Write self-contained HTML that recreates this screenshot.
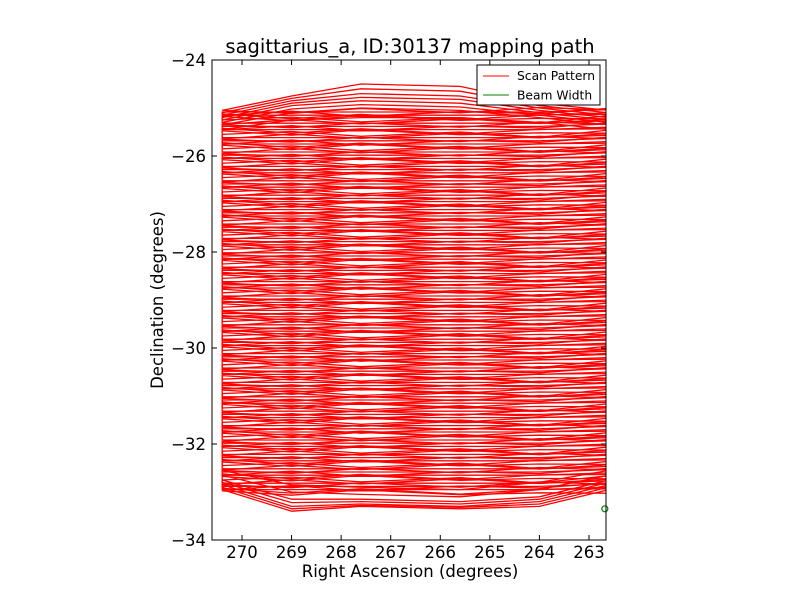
<!DOCTYPE html>
<html><head><meta charset="utf-8"><style>
body{margin:0;background:#fff;}
svg text{font-family:"DejaVu Sans","Liberation Sans",sans-serif;}
</style></head><body>
<svg id="chart" width="800" height="600" xmlns="http://www.w3.org/2000/svg">
<rect width="800" height="600" fill="#fff"/>
<text x="410" y="53" font-size="19.5" text-anchor="middle">sagittarius_a, ID:30137 mapping path</text>
<defs><clipPath id="clip"><rect x="212" y="60" width="394" height="480"/></clipPath></defs>
<g id="series" clip-path="url(#clip)"></g>
<circle id="beam" r="3" fill="none" stroke="green" stroke-width="1.2"/>
<g id="axes"></g>
<rect x="212" y="60" width="394" height="480" fill="none" stroke="#000" stroke-width="1"/>
<text x="410" y="577" font-size="16.5" text-anchor="middle">Right Ascension (degrees)</text>
<text x="163" y="300" font-size="16.5" text-anchor="middle" transform="rotate(-90 163 300)">Declination (degrees)</text>
<g>
<rect x="477" y="65" width="123" height="40" fill="#fff" stroke="#000"/>
<line x1="483" y1="76" x2="509" y2="76" stroke="red"/>
<text x="517" y="80" font-size="12.3">Scan Pattern</text>
<line x1="483" y1="95" x2="509" y2="95" stroke="green"/>
<text x="517" y="99.5" font-size="12.3">Beam Width</text>
</g>
</svg>
<script>
const xTicks=[270,269,268,267,266,265,264,263];
const yTicks=[-24,-26,-28,-30,-32,-34];
const knotsRA=[270.4,269.0,267.6,265.6,264.0,262.6];
const rowDecs=[-25.05,-25.15,-25.25,-25.35,-25.45,-25.55,-25.65,-25.75,-25.85,-25.95,-26.05,-26.15,-26.25,-26.35,-26.45,-26.55,-26.65,-26.75,-26.85,-26.95,-27.05,-27.15,-27.25,-27.35,-27.45,-27.55,-27.65,-27.75,-27.85,-27.95,-28.05,-28.15,-28.25,-28.35,-28.45,-28.55,-28.65,-28.75,-28.85,-28.95,-29.05,-29.15,-29.25,-29.35,-29.45,-29.55,-29.65,-29.75,-29.85,-29.95,-30.05,-30.15,-30.25,-30.35,-30.45,-30.55,-30.65,-30.75,-30.85,-30.95,-31.05,-31.15,-31.25,-31.35,-31.45,-31.55,-31.65,-31.75,-31.85,-31.95,-32.05,-32.15,-32.25,-32.35,-32.45,-32.55,-32.65,-32.75,-32.85,-32.95];
const passOffsets=[0,0.033,0.066];
const rowShape=[0,0.06,-0.04,0.05,-0.06,0.04];
const topCapDecs=[[-25.05,-24.75,-24.5,-24.55,-24.9,-25.05],[-25.1,-24.8,-24.6,-24.65,-24.95,-25.1],[-25.15,-24.85,-24.7,-24.75,-25.0,-25.15],[-25.2,-24.9,-24.78,-24.82,-25.05,-25.2],[-25.25,-24.95,-24.85,-24.9,-25.1,-25.25],[-25.3,-25.02,-24.93,-24.98,-25.15,-25.3],[-25.35,-25.1,-25.0,-25.05,-25.2,-25.35],[-25.45,-25.25,-25.2,-25.2,-25.3,-25.45]];
const botCapDecs=[[-32.95,-33.4,-33.3,-33.35,-33.3,-32.95],[-32.9,-33.35,-33.28,-33.32,-33.25,-32.9],[-32.85,-33.3,-33.25,-33.3,-33.2,-32.85],[-32.8,-33.22,-33.2,-33.25,-33.15,-32.8],[-32.75,-33.15,-33.15,-33.2,-33.1,-32.75],[-32.65,-33.0,-33.05,-33.1,-32.95,-32.65],[-32.55,-32.85,-32.9,-32.95,-32.8,-32.55]];
const beamRA=262.68, beamDec=-33.35;

const X=ra=>242+(270-ra)*49.57;
const Y=d=>60+(-24-d)*48;
const NS="http://www.w3.org/2000/svg";
const series=document.getElementById('series');
function poly(pts,name){
  const p=document.createElementNS(NS,'polyline');
  p.setAttribute('points',pts.map(q=>X(q[0]).toFixed(1)+','+Y(q[1]).toFixed(1)).join(' '));
  p.setAttribute('fill','none');p.setAttribute('stroke','#ff0000');p.setAttribute('stroke-width','1.3');
  
  
  series.appendChild(p);
}
passOffsets.forEach((off,pi)=>{
  let path=[];
  rowDecs.forEach((d,i)=>{
    let pts=knotsRA.map((ra,k)=>[ra,d-off+rowShape[(k+pi)%rowShape.length]*(((i+pi)%3)-1)+(k===knotsRA.length-1?0.05:0)]);
    if((i+pi)%2) pts.reverse();
    path=path.concat(pts);
  });
  poly(path,'scan-pattern-line');
});
topCapDecs.forEach(r=>poly(knotsRA.map((ra,k)=>[ra,r[k]]),'scan-top-cap'));
botCapDecs.forEach(r=>poly(knotsRA.map((ra,k)=>[ra,r[k]]),'scan-bottom-cap'));
const beam=document.getElementById('beam');
beam.setAttribute('cx',X(beamRA));beam.setAttribute('cy',Y(beamDec));
const axes=document.getElementById('axes');
function el(tag,attrs,name,txt){const e=document.createElementNS(NS,tag);for(const k in attrs)e.setAttribute(k,attrs[k]);
  
  
  if(txt!==undefined)e.textContent=txt;axes.appendChild(e);}
xTicks.forEach(t=>{const x=X(t);
  el('line',{x1:x,x2:x,y1:60,y2:65,stroke:'#000'},'x-tick');
  el('line',{x1:x,x2:x,y1:540,y2:535,stroke:'#000'},'x-tick');
  el('text',{x:x,y:558,'font-size':16.5,'text-anchor':'middle'},'x-tick-label',String(t));});
yTicks.forEach(t=>{const y=Y(t);
  el('line',{x1:212,x2:217,y1:y,y2:y,stroke:'#000'},'y-tick');
  el('line',{x1:606,x2:601,y1:y,y2:y,stroke:'#000'},'y-tick');
  el('text',{x:206,y:y+6,'font-size':16.5,'text-anchor':'end'},'y-tick-label','\u2212'+Math.abs(t));});
</script>
</body></html>
